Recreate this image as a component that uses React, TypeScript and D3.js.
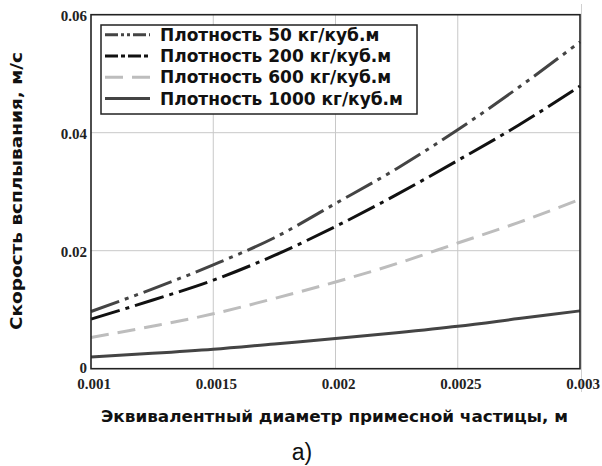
import React from "react";
import * as d3 from "d3";

const diameters = [0.001, 0.00125, 0.0015, 0.00175, 0.002, 0.00225, 0.0025, 0.00275, 0.003];
const rho50 = [0.0097, 0.0135, 0.0176, 0.0222, 0.028, 0.0339, 0.0405, 0.0477, 0.0554];
const rho200 = [0.0084, 0.0116, 0.015, 0.0192, 0.0241, 0.0295, 0.0353, 0.0413, 0.0479];
const rho600 = [0.0053, 0.0072, 0.0093, 0.0119, 0.0147, 0.0178, 0.0213, 0.0248, 0.0287];
const rho1000 = [0.002, 0.0026, 0.0033, 0.0042, 0.0051, 0.0061, 0.0072, 0.0085, 0.0098];
const seriesNames = [
  "Плотность 50 кг/куб.м",
  "Плотность 200 кг/куб.м",
  "Плотность 600 кг/куб.м",
  "Плотность 1000 кг/куб.м",
];
const xTicks = [0.001, 0.0015, 0.002, 0.0025, 0.003];
const xTickLabels = ["0.001", "0.0015", "0.002", "0.0025", "0.003"];
const yTicks = [0, 0.02, 0.04, 0.06];
const yTickLabels = ["0", "0.02", "0.04", "0.06"];

const styles = [
  { color: "#444444", dash: "30 6 4 6 4 6" },
  { color: "#111111", dash: "30 6 4 6" },
  { color: "#bdbdbd", dash: "18 9" },
  { color: "#444444", dash: "" },
];

export default function App() {
  const L = 91, R = 580, T = 14.7, B = 368.7;
  const x = d3.scaleLinear().domain([0.001, 0.003]).range([L, R]);
  const y = d3.scaleLinear().domain([0, 0.06]).range([B, T]);
  const all = [rho50, rho200, rho600, rho1000];
  const line = d3
    .line<number>()
    .x((_, i) => x(diameters[i]))
    .y((v) => y(v))
    .curve(d3.curveMonotoneX);

  const legendRows = [34.7, 56, 77.3, 98.6];

  return (
    <svg
      width={602}
      height={466}
      style={{ position: "absolute", left: 0, top: 0, background: "#fff" }}
    >
      <rect x={0} y={0} width={602} height={466} fill="#fff" />
      {/* faint right edge */}
      <line x1={581.5} x2={581.5} y1={4} y2={392} stroke="#d0d0d0" strokeWidth={1} />
      {/* grid */}
      {xTicks.slice(1, -1).map((t) => (
        <line key={"gx" + t} x1={x(t)} x2={x(t)} y1={T} y2={B} stroke="#c8c8c8" strokeWidth={1} />
      ))}
      {yTicks.slice(1, -1).map((t) => (
        <line key={"gy" + t} x1={L} x2={R} y1={y(t)} y2={y(t)} stroke="#c8c8c8" strokeWidth={1} />
      ))}
      {/* series */}
      {all.map((s, i) => (
        <path
          key={"s" + i}
          d={line(s) || ""}
          fill="none"
          stroke={styles[i].color}
          strokeWidth={3}
          strokeDasharray={styles[i].dash || undefined}
        />
      ))}
      {/* frame */}
      <rect x={L} y={T} width={R - L} height={B - T} fill="none" stroke="#222" strokeWidth={1.6} />
      {/* ticks */}
      {xTicks.map((t, i) => (
        <text
          key={"xt" + t}
          x={x(t) + 3}
          y={388.5}
          textAnchor="middle"
          fontFamily="'Liberation Serif', serif"
          fontWeight="bold"
          fontSize={15}
          fill="#222"
        >
          {xTickLabels[i]}
        </text>
      ))}
      {yTicks.map((t, i) => (
        <text
          key={"yt" + t}
          x={87}
          y={t === 0 ? y(t) + 4 : y(t) + 6}
          textAnchor="end"
          fontFamily="'Liberation Serif', serif"
          fontWeight="bold"
          fontSize={15}
          fill="#222"
        >
          {yTickLabels[i]}
        </text>
      ))}
      {/* legend */}
      <rect x={101} y={25} width={316} height={89} fill="#fff" stroke="#222" strokeWidth={1.5} />
      {seriesNames.map((n, i) => (
        <g key={"lg" + i}>
          <line
            x1={105}
            x2={150}
            y1={legendRows[i]}
            y2={legendRows[i]}
            stroke={styles[i].color}
            strokeWidth={3}
            strokeDasharray={i === 0 ? "13 3 3 3 3 3" : i === 1 ? "13 3 4 3" : styles[i].dash || undefined}
          />
          <text
            x={160}
            y={legendRows[i] + 6}
            fontFamily="'DejaVu Sans', sans-serif"
            fontWeight="bold"
            fontSize={17}
            fill="#111"
          >
            {n}
          </text>
        </g>
      ))}
      {/* axis titles */}
      <text
        x={334.5}
        y={422}
        textAnchor="middle"
        fontFamily="'DejaVu Sans', sans-serif"
        fontWeight="bold"
        fontSize={15.5}
        textLength={467}
        lengthAdjust="spacingAndGlyphs"
        fill="#111"
      >
        Эквивалентный диаметр примесной частицы, м
      </text>
      <text
        transform={`translate(22,191) rotate(-90)`}
        textAnchor="middle"
        fontFamily="'DejaVu Sans', sans-serif"
        fontWeight="bold"
        fontSize={16.5}
        textLength={278}
        lengthAdjust="spacingAndGlyphs"
        fill="#111"
      >
        Скорость всплывания, м/с
      </text>
      <text
        x={302}
        y={460}
        textAnchor="middle"
        fontFamily="'Liberation Sans', Arial, sans-serif"
        fontSize={23}
        fill="#111"
      >
        a)
      </text>
    </svg>
  );
}
